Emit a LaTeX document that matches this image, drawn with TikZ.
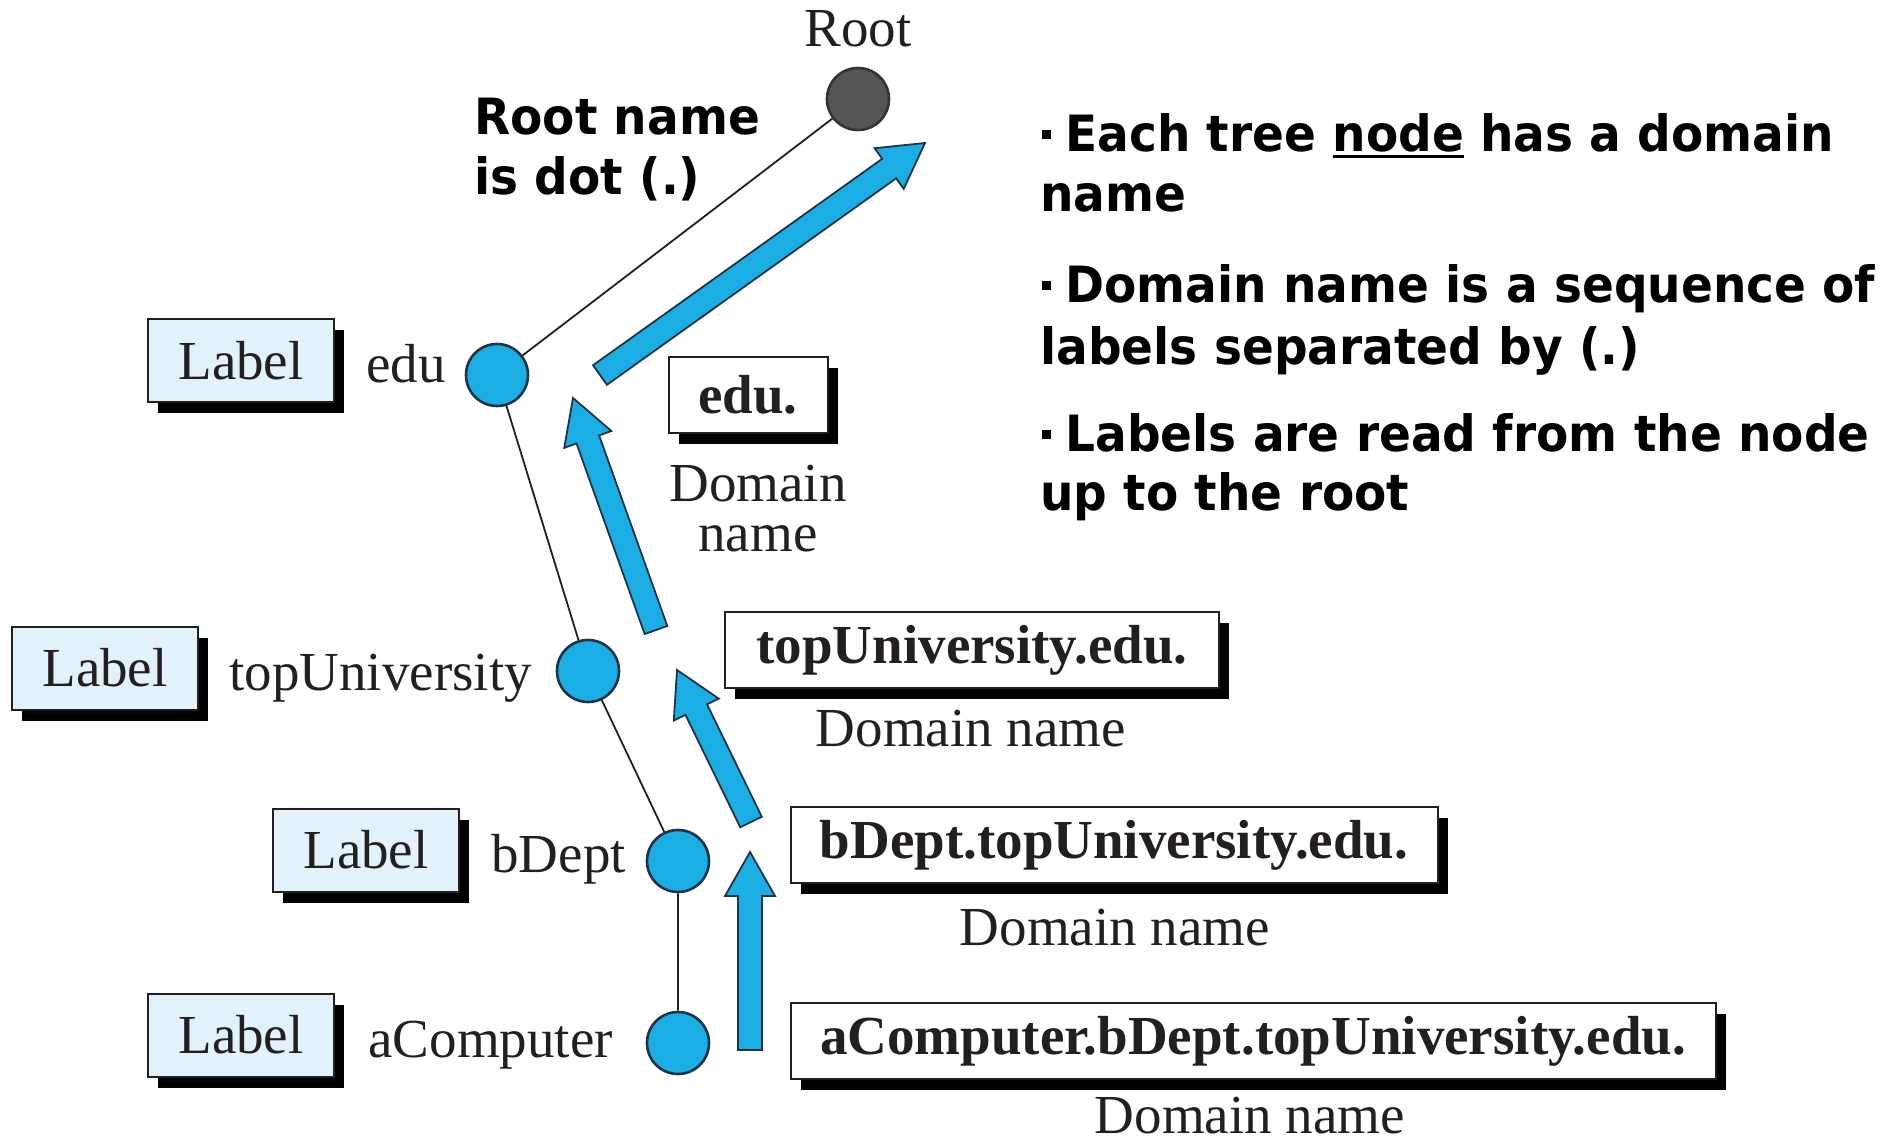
\documentclass[tikz,border=0pt]{standalone}
\usepackage{fontspec}
\setmainfont{Liberation Serif}
\newfontfamily\tahoma[FakeStretch=0.94]{DejaVu Sans}
\usetikzlibrary{calc,shadows}
\definecolor{cy}{HTML}{1AAEE5}
\definecolor{ink}{HTML}{231F20}
\definecolor{edgec}{HTML}{1F3344}
\definecolor{lbl}{HTML}{E1F2FB}
\definecolor{rootc}{HTML}{555555}
\newcommand\serifsz{\fontsize{27.5}{33}\selectfont}
\newcommand\boldsz{\tahoma\bfseries\fontsize{25}{30}\selectfont}
\newcommand\bsq{\rule[6.5pt]{4.5pt}{4.5pt}\hspace{7pt}}
\newcommand\myul[1]{\setbox0\hbox{#1}\rlap{\rule[-3pt]{\wd0}{1.5pt}}\box0\relax}
\newcommand\blockarrow[2]{%
  \coordinate (#2-base) at ($(#2)!22pt!(#1)$);
  \draw[barrow] ($(#1)!6pt!90:(#2)$) -- ($(#2-base)!6pt!-90:(#1)$)
    -- ($(#2-base)!12.5pt!-90:(#1)$) -- (#2)
    -- ($(#2-base)!12.5pt!90:(#1)$) -- ($(#2-base)!6pt!90:(#1)$)
    -- ($(#1)!6pt!-90:(#2)$) -- cycle;}
\begin{document}
\begin{tikzpicture}[x=0.5pt,y=-0.5pt,
  treenode/.style={circle, draw=edgec, line width=1.3pt, fill=cy, minimum size=31pt, inner sep=0pt},
  rootnode/.style={treenode, fill=rootc, draw=black!80},
  labelbox/.style={draw=ink, line width=1pt, fill=lbl, minimum width=93pt, minimum height=41.5pt, inner sep=0pt, font=\serifsz, text=ink, drop shadow={fill=black, opacity=1, shadow xshift=5pt, shadow yshift=-5.5pt}},
  dnbox/.style={labelbox, fill=white, minimum height=38pt, font=\serifsz\bfseries},
  txt/.style={font=\serifsz, text=ink, inner sep=0pt},
  bulletxt/.style={font=\boldsz, inner sep=0pt, anchor=base west},
  treeline/.style={draw=ink, line width=0.9pt},
  barrow/.style={fill=cy, draw=edgec, line width=0.9pt, line join=miter}]
\useasboundingbox (0,0) rectangle (1896,1144);
% tree
\node[rootnode] (root) at (858,99) {};
\node[treenode] (edu) at (497,375) {};
\node[treenode] (top) at (588,671) {};
\node[treenode] (bd) at (678,861) {};
\node[treenode] (ac) at (678,1043) {};
\draw[treeline] (root) -- (edu) -- (top) -- (bd) -- (ac);
\node[txt, anchor=base] (roottxt) at (858,47) {Root};
% labels
\node[labelbox] (l1) at (241,361) {Label};
\node[txt, anchor=base west] (n1) at (366,383) {edu};
\node[labelbox] (l2) at (105,668) {Label};
\node[txt, anchor=base west] (n2) at (229,690) {topUniversity};
\node[labelbox] (l3) at (366,850) {Label};
\node[txt, anchor=base west] (n3) at (491,872) {bDept};
\node[labelbox] (l4) at (241,1035) {Label};
\node[txt, anchor=base west] (n4) at (368,1057) {aComputer};
% domain names
\node[dnbox, minimum width=79.5pt] (d1) at (748,395) {edu.};
\node[txt, anchor=base] (d1a) at (758,502) {Domain};
\node[txt, anchor=base] (d1b) at (758,552) {name};
\node[dnbox, minimum width=247pt] (d2) at (972,650) {topUniversity.edu.};
\node[txt, anchor=base] (d2a) at (971,746) {Domain name};
\node[dnbox, minimum width=323.5pt] (d3) at (1114,845) {bDept.topUniversity.edu.};
\node[txt, anchor=base] (d3a) at (1115,945) {Domain name};
\node[dnbox, minimum width=462.5pt] (d4) at (1253,1041) {aComputer.bDept.topUniversity.edu.};
\node[txt, anchor=base] (d4a) at (1250,1133) {Domain name};
% block arrows
\coordinate (a1t) at (600,375); \coordinate (a1h) at (925,143);
\coordinate (a2t) at (656,630); \coordinate (a2h) at (573,398);
\coordinate (a3t) at (751,822); \coordinate (a3h) at (677,670);
\coordinate (a4t) at (750,1050); \coordinate (a4h) at (750,852);
\blockarrow{a1t}{a1h}
\blockarrow{a2t}{a2h}
\blockarrow{a3t}{a3h}
\blockarrow{a4t}{a4h}
% bold texts
\node[bulletxt] (rn1) at (474,135) {Root name};
\node[bulletxt] (rn2) at (474,195) {is dot (.)};
\node[bulletxt] (b1a) at (1042,152) {\bsq Each tree \myul{node} has a domain};
\node[bulletxt] (b1b) at (1040,212) {name};
\node[bulletxt] (b2a) at (1042,303) {\bsq Domain name is a sequence of};
\node[bulletxt] (b2b) at (1040,365) {labels separated by (.)};
\node[bulletxt] (b3a) at (1042,452) {\bsq Labels are read from the node};
\node[bulletxt] (b3b) at (1040,510) {up to the root};
\end{tikzpicture}
\end{document}
